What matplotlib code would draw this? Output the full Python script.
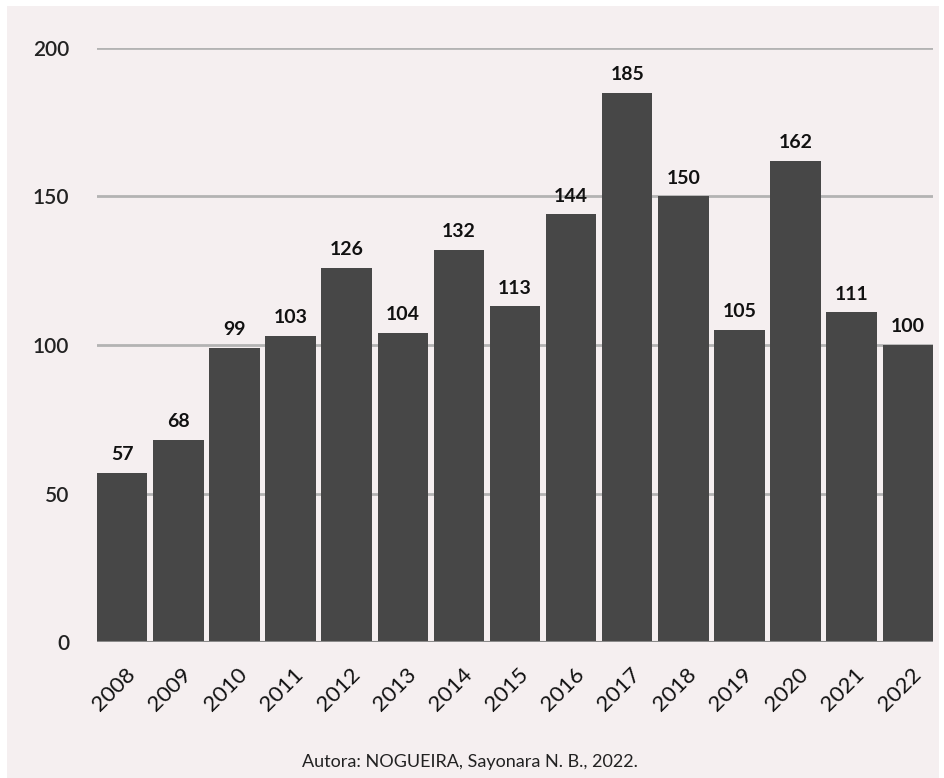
import numpy as np
import matplotlib.pyplot as plt
import matplotlib.transforms as mtransforms
from matplotlib.patches import Rectangle

years = ["2008", "2009", "2010", "2011", "2012", "2013", "2014", "2015",
         "2016", "2017", "2018", "2019", "2020", "2021", "2022"]
values = [57, 68, 99, 103, 126, 104, 132, 113, 144, 185, 150, 105, 162, 111, 100]
yticks = [0, 50, 100, 150, 200]
caption = "Autora: NOGUEIRA, Sayonara N. B., 2022."

BG = "#f5eff0"
BAR = "#474747"
GRID = "#b3b3b3"


def main():
    plt.rcParams["font.family"] = ["Lato", "DejaVu Sans"]

    fig = plt.figure(figsize=(9.44, 7.78), dpi=100, facecolor="white")
    fig.patches.append(Rectangle((7 / 944, 0), 932 / 944, 1 - 6 / 778,
                                 transform=fig.transFigure, facecolor=BG,
                                 edgecolor="none", zorder=-10))

    ax = fig.add_axes([97 / 944, 1 - 642 / 778, 836 / 944, 594 / 778])
    ax.set_facecolor(BG)
    ax.patch.set_alpha(0)

    x = np.arange(len(years))
    ax.bar(x, values, width=0.9, color=BAR, zorder=3)

    for xi, v in zip(x, values):
        ax.annotate(str(v), (xi, v), xytext=(0, 7), textcoords="offset points",
                    ha="center", va="bottom", fontsize=14, fontweight="bold",
                    color="#111111")

    ax.set_xlim(-0.45, len(years) - 0.55)
    ax.set_ylim(0, 200)
    ax.set_yticks(yticks)
    ax.set_yticklabels([str(t) for t in yticks], fontsize=15,
                       fontweight="semibold", color="#222222")
    for t in yticks:
        ax.axhline(t, color=GRID, linewidth=2, zorder=1)
    ax.axhline(0, color="#8a8a8a", linewidth=1.5, zorder=4)

    ax.tick_params(axis="both", length=0)
    ax.tick_params(axis="y", pad=20)

    ax.set_xticks(x)
    ax.set_xticklabels(years, rotation=45, ha="right", va="center",
                       rotation_mode="anchor", fontsize=16, color="#111111")
    # shift the rotated year labels so they hang under the bars
    off = mtransforms.ScaledTranslation(10 / 100, -24 / 100, fig.dpi_scale_trans)
    for lab in ax.get_xticklabels():
        lab.set_transform(lab.get_transform() + off)

    for s in ax.spines.values():
        s.set_visible(False)

    fig.text(470 / 944, 1 - 762 / 778, caption, ha="center", va="center",
             fontsize=13, color="#222222")

    fig.savefig("out.png", dpi=100, facecolor=fig.get_facecolor())


if __name__ == "__main__":
    main()
